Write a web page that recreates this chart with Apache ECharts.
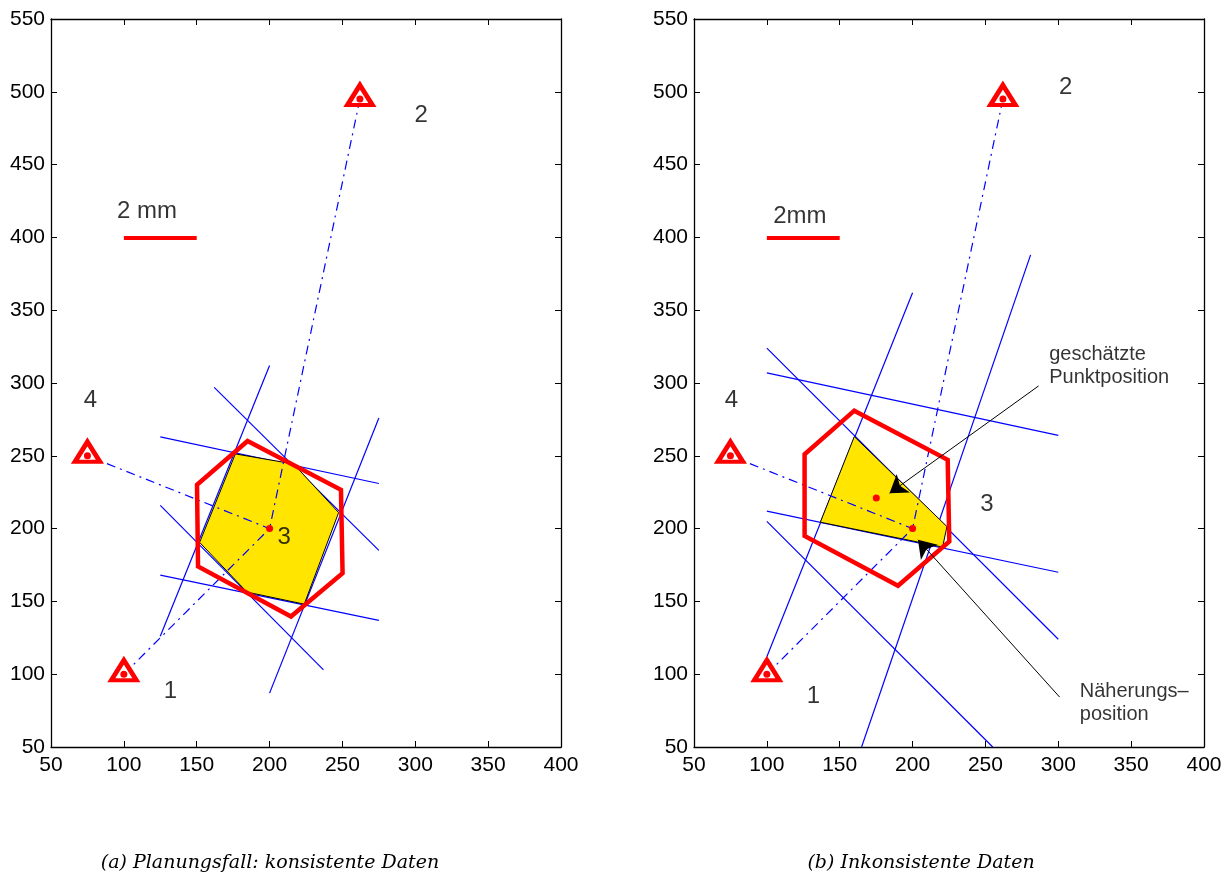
<!DOCTYPE html>
<html><head><meta charset="utf-8">
<script src="https://cdn.jsdelivr.net/npm/echarts@6/dist/echarts.min.js"></script>
<style>html,body{margin:0;padding:0;background:#fff}#c{width:1227px;height:876px}</style>
</head><body><div id="c"></div>
<script>
// ---- axes ----
const xRange = [50, 400];
const yRange = [50, 550];
const tickStep = 50;

// ---- panel (a): consistent data ----
const aStations = [[100, 100], [262, 495], [75, 250]];
const aApprox = [[200, 200]];
const aBands = [
  [[125, 126], [200, 312]],
  [[200, 87], [275, 276]],
  [[162, 297], [275, 185]],
  [[125, 216], [237, 103]],
  [[125, 263], [275, 231]],
  [[125, 168], [275, 137]]
];
const aRegion = [[176.5, 251.3], [216.5, 244.4], [247.4, 211], [223.8, 148.1], [184.5, 156.4], [152, 190.5]];
const aHexagon = [[184.9, 260.2], [249, 226.6], [250.1, 169.4], [214.7, 139.6], [150.9, 174], [150.2, 230.1]];
const aNumbers = ['1', '2', '3', '4'];
const aNumberPos = [[132, 88], [304, 484], [210, 194], [77, 288]];
const aScaleBar = [[100, 400], [150, 400]];
const aScaleText = '2 mm';
const aScaleTextPos = [95, 417.6];
const aCaption = '(a) Planungsfall: konsistente Daten';

// ---- panel (b): inconsistent data ----
const bStations = [[100, 100], [262, 495], [75, 250]];
const bApprox = [[200, 200]];
const bEstimate = [[175.1, 221.1]];
const bBands = [
  [[100, 112], [200, 362]],
  [[165, 50], [281, 388]],
  [[100, 324], [300, 124]],
  [[100, 205], [255, 50]],
  [[100, 307], [300, 264]],
  [[100, 212], [300, 170]]
];
const bRegion = [[160, 263.2], [223.6, 201.4], [220.6, 187.3], [136.7, 204.4]];
const bHexagon = [[160, 281], [224.1, 247.2], [225.2, 191.1], [190, 160.7], [125.9, 195], [125.9, 251.1]];
const bNumbers = ['1', '2', '3', '4'];
const bNumberPos = [[132, 84.5], [305, 503], [251, 216.3], [75.6, 288]];
const bScaleBar = [[100, 400], [150, 400]];
const bScaleText = '2mm';
const bScaleTextPos = [104, 414.6];
const bAnnotTexts = ['geschätzte\nPunktposition', 'Näherungs–\nposition'];
const bAnnotTextPos = [[293.4, 311.7], [314.4, 80.2]];
const bArrows = [
  [[286.5, 298], [184.2, 224.3]],
  [[300.9, 84.3], [203.7, 192.3]]
];
const bCaption = '(b) Inkonsistente Daten';

const FONT = 'Liberation Sans, Arial, Helvetica, sans-serif';

function axesFor(g) {
  const common = {
    type: 'value', gridIndex: g,
    axisLine: { onZero: false, lineStyle: { color: '#000', width: 1.3 } },
    axisTick: { inside: true, length: 6, lineStyle: { color: '#000', width: 1 } },
    splitLine: { show: false }
  };
  const labX = { color: '#000', fontSize: 21, fontFamily: FONT, margin: 8, showMinLabel: true, showMaxLabel: true };
  const labY = { color: '#000', fontSize: 21, fontFamily: FONT, margin: 6, showMinLabel: true, showMaxLabel: true };
  return {
    x: [
      Object.assign({}, common, { min: xRange[0], max: xRange[1], interval: tickStep, position: 'bottom', axisLabel: labX }),
      Object.assign({}, common, { min: xRange[0], max: xRange[1], interval: tickStep, position: 'top', axisLabel: { show: false } })
    ],
    y: [
      Object.assign({}, common, { min: yRange[0], max: yRange[1], interval: tickStep, position: 'left', axisLabel: labY }),
      Object.assign({}, common, { min: yRange[0], max: yRange[1], interval: tickStep, position: 'right', axisLabel: { show: false } })
    ]
  };
}

function polygonSeries(ax, pts, fill, stroke, width, z) {
  return {
    type: 'custom', xAxisIndex: ax, yAxisIndex: ax, z: z, silent: true,
    data: pts, encode: { x: 0, y: 1 },
    renderItem: function (params, api) {
      if (params.dataIndex !== 0) return null;
      return {
        type: 'polygon',
        shape: { points: pts.map(p => api.coord(p)) },
        style: { fill: fill, stroke: stroke, lineWidth: width, lineJoin: 'miter' }
      };
    }
  };
}

function segs(ax, list, style, z, extra) {
  return Object.assign({
    type: 'lines', coordinateSystem: 'cartesian2d', xAxisIndex: ax, yAxisIndex: ax, z: z, silent: true,
    symbol: 'none', polyline: false,
    lineStyle: Object.assign({ opacity: 1, curveness: 0 }, style),
    data: list.map(c => ({ coords: c }))
  }, extra || {});
}

function panelSeries(ax, P) {
  const s = [];
  s.push(segs(ax, P.bands, { color: '#0000ff', width: 1.2 }, 2));
  s.push(polygonSeries(ax, P.region, '#ffe500', '#000', 1, 3));
  s.push(segs(ax, P.stations.map(st => [st, P.approx[0]]), { color: '#0000ff', width: 1.2, type: [9, 5, 2, 5] }, 4));
  s.push(polygonSeries(ax, P.hexagon, 'none', '#ff0000', 4.5, 5));
  s.push(segs(ax, [P.scaleBar], { color: '#ff0000', width: 4, cap: 'butt' }, 5));
  s.push({
    type: 'scatter', xAxisIndex: ax, yAxisIndex: ax, data: P.stations, symbol: 'triangle',
    symbolSize: [25, 20], symbolOffset: [0, -4], z: 6, silent: true,
    itemStyle: { color: '#fff', borderColor: '#ff0000', borderWidth: 4.5, borderJoin: 'miter', opacity: 1 }
  });
  s.push({
    type: 'scatter', xAxisIndex: ax, yAxisIndex: ax, data: P.stations.concat(P.approx, P.extra || []),
    symbol: 'circle', symbolSize: 7, z: 7, silent: true, itemStyle: { color: '#ff0000', opacity: 1 }
  });
  s.push({
    type: 'scatter', xAxisIndex: ax, yAxisIndex: ax, symbolSize: 1, z: 8, silent: true,
    itemStyle: { color: 'rgba(0,0,0,0)' },
    data: P.numberPos.map((p, i) => ({ value: p, name: P.numbers[i] })),
    label: { show: true, position: 'inside', formatter: '{b}', color: '#000', fontSize: 24, fontFamily: FONT }
  });
  s.push({
    type: 'scatter', xAxisIndex: ax, yAxisIndex: ax, symbolSize: 1, z: 8, silent: true,
    itemStyle: { color: 'rgba(0,0,0,0)' },
    data: [{ value: P.scaleTextPos, name: P.scaleText }],
    label: { show: true, position: 'right', distance: 0, formatter: '{b}', color: '#000', fontSize: 24, fontFamily: FONT }
  });
  if (P.annotTexts) {
    s.push({
      type: 'scatter', xAxisIndex: ax, yAxisIndex: ax, symbolSize: 1, z: 8, silent: true,
      itemStyle: { color: 'rgba(0,0,0,0)' },
      data: P.annotTextPos.map((p, i) => ({ value: p, name: P.annotTexts[i] })),
      label: { show: true, position: 'right', distance: 0, formatter: '{b}', color: '#000', fontSize: 20, lineHeight: 23, fontFamily: FONT }
    });
    s.push(segs(ax, P.arrows, { color: '#000', width: 1 }, 9, { symbol: ['none', 'arrow'], symbolSize: [11, 17] }));
  }
  return s;
}

const A = axesFor(0), B = axesFor(1);
const option = {
  animation: false,
  backgroundColor: '#fff',
  grid: [
    { left: 51, top: 19, width: 510, height: 728 },
    { left: 694, top: 19, width: 510, height: 728 }
  ],
  xAxis: [A.x[0], A.x[1], B.x[0], B.x[1]],
  yAxis: [A.y[0], A.y[1], B.y[0], B.y[1]],
  series: [].concat(
    panelSeries(0, { stations: aStations, approx: aApprox, bands: aBands, region: aRegion, hexagon: aHexagon,
      numbers: aNumbers, numberPos: aNumberPos, scaleBar: aScaleBar, scaleText: aScaleText, scaleTextPos: aScaleTextPos }),
    panelSeries(2, { stations: bStations, approx: bApprox, extra: bEstimate, bands: bBands, region: bRegion, hexagon: bHexagon,
      numbers: bNumbers, numberPos: bNumberPos, scaleBar: bScaleBar, scaleText: bScaleText, scaleTextPos: bScaleTextPos,
      annotTexts: bAnnotTexts, annotTextPos: bAnnotTextPos, arrows: bArrows })
  ),
  graphic: [
    { type: 'text', x: 270, y: 863, style: { text: aCaption, align: 'center', verticalAlign: 'middle', fill: '#000',
      font: 'italic 19px "DejaVu Serif", serif' } },
    { type: 'text', x: 921, y: 863, style: { text: bCaption, align: 'center', verticalAlign: 'middle', fill: '#000',
      font: 'italic 19px "DejaVu Serif", serif' } }
  ]
};
const chart = echarts.init(document.getElementById('c'), null, { renderer: 'canvas' });
chart.setOption(option);
</script>
</body></html>
